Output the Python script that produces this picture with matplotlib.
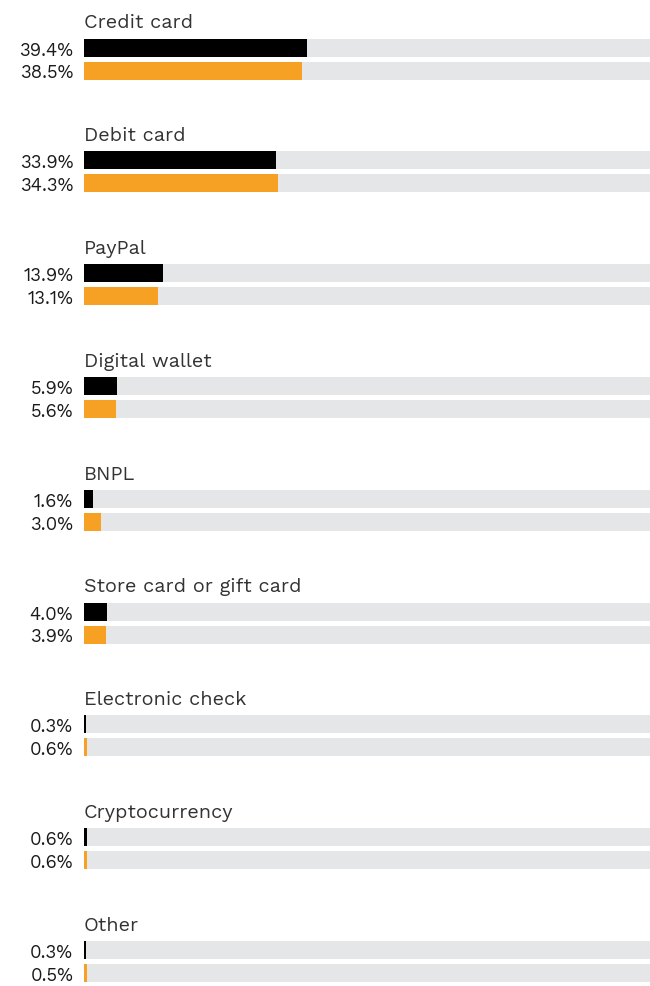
import matplotlib
matplotlib.use("Agg")
import matplotlib.pyplot as plt

categories = ["Credit card", "Debit card", "PayPal", "Digital wallet", "BNPL",
              "Store card or gift card", "Electronic check", "Cryptocurrency", "Other"]
series_a = [39.4, 33.9, 13.9, 5.9, 1.6, 4.0, 0.3, 0.6, 0.3]   # black
series_b = [38.5, 34.3, 13.1, 5.6, 3.0, 3.9, 0.6, 0.6, 0.5]   # orange
max_value = 100

plt.rcParams['font.family'] = ['Work Sans', 'DejaVu Sans']

W, H = 650, 986
fig = plt.figure(figsize=(W / 100, H / 100), dpi=100)
x0 = 84
ax = fig.add_axes([x0 / W, 0, 1 - x0 / W, 1])
ax.set_xlim(0, 100)
ax.set_ylim(H, 0)
ax.axis('off')

first = 47.5
step = 112.8
gap = 23
bh = 18

for i, cat in enumerate(categories):
    ya = first + i * step
    yb = ya + gap
    for y, v, c in ((ya, series_a[i], '#000000'), (yb, series_b[i], '#F6A024')):
        ax.barh(y, max_value, height=bh, left=0, color='#E5E6E8', linewidth=0)
        ax.barh(y, v, height=bh, left=0, color=c, linewidth=0)
        ax.text(-1.9, y + 3, f"{v:.1f}%", ha='right', va='center',
                fontsize=13.3, color='#1a1a1a', clip_on=False)
    ax.text(0.0, ya - 19, cat, ha='left', va='baseline', fontsize=14.3,
            color='#333333')

fig.savefig("out.png", dpi=100)
